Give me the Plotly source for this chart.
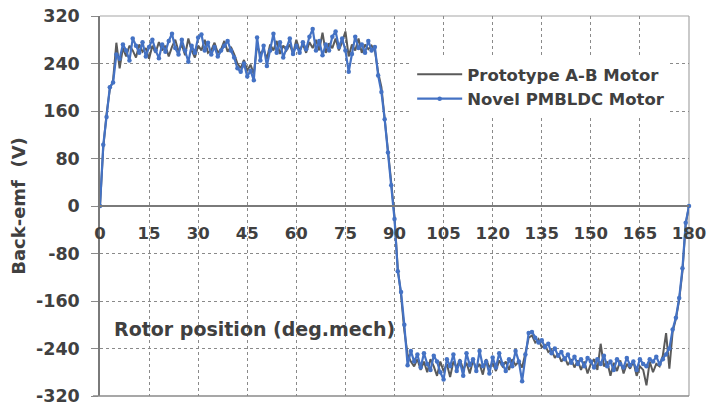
import plotly.graph_objects as go

# Rotor position in mechanical degrees (1 degree steps)
rotor_deg = list(range(0, 181))

# Back-emf of the prototype A-B motor (V)
prototype_emf = [
    0, 98, 155, 196, 212, 275, 232, 266, 252, 270,
    262, 250, 272, 260, 266, 248, 270, 258, 276, 262,
    270, 252, 268, 280, 260, 272, 254, 282, 262, 250,
    270, 262, 280, 258, 262, 275, 258, 264, 278, 260,
    268, 256, 240, 232, 246, 228, 238, 222, 270, 256,
    264, 248, 272, 262, 278, 256, 270, 262, 272, 256,
    280, 262, 272, 258, 276, 266, 280, 262, 292, 258,
    274, 266, 282, 262, 276, 294, 252, 272, 262, 282,
    258, 272, 264, 270, 262, 225, 200, 150, 95, 40,
    -18, -105, -150, -210, -250, -262, -270, -258, -276, -262,
    -280, -258, -270, -286, -262, -278, -266, -288, -262, -272,
    -258, -276, -264, -282, -260, -274, -266, -284, -258, -272,
    -264, -278, -260, -270, -262, -276, -258, -268, -262, -272,
    -248, -222, -218, -230, -224, -238, -234, -246, -242, -256,
    -248, -262, -254, -268, -258, -272, -260, -276, -262, -282,
    -266, -258, -276, -232, -270, -262, -286, -264, -278, -260,
    -282, -266, -274, -262, -286, -270, -276, -302, -262, -280,
    -266, -270, -252, -214, -274, -212, -190, -158, -110, -30,
    0,
]

# Back-emf of the novel PMBLDC motor (V)
novel_emf = [
    0, 103, 150, 200, 208, 255, 248, 272, 262, 245,
    282, 270, 258, 276, 252, 268, 280, 262, 249, 272,
    260, 278, 290, 266, 255, 280, 262, 243, 270, 258,
    284, 289, 262, 275, 255, 268, 252, 262, 270, 278,
    262, 250, 232, 226, 240, 218, 228, 212, 284, 245,
    270, 236, 262, 290, 258, 276, 250, 266, 282, 256,
    270, 258, 276, 264, 285, 298, 262, 278, 254, 272,
    262, 285, 294, 268, 282, 262, 226, 256, 285, 266,
    272, 258, 278, 262, 268, 220, 192, 146, 90, 35,
    -22, -110, -145, -200, -268, -244, -262, -250, -272, -248,
    -266, -276, -252, -262, -280, -292, -258, -270, -250, -278,
    -262, -286, -248, -268, -258, -278, -244, -270, -262, -282,
    -255, -272, -248, -266, -278, -258, -270, -244, -262, -295,
    -250, -214, -212, -222, -230, -226, -238, -232, -248, -240,
    -252, -246, -258, -250, -264, -254, -266, -258, -270, -256,
    -262, -272, -258, -266, -252, -270, -262, -276, -258, -266,
    -272, -256, -268, -262, -276, -258, -266, -270, -258, -262,
    -254, -266, -258, -250, -240, -208, -188, -155, -105, -28,
    0,
]

x_ticks = list(range(0, 181, 15))
y_ticks = list(range(-320, 321, 80))

FONT = "DejaVu Sans"
TEXT = "#404040"
GRID = "#8a8a8a"

fig = go.Figure()

fig.add_trace(go.Scatter(
    x=rotor_deg, y=prototype_emf,
    mode="lines",
    name="Prototype A-B Motor",
    line=dict(color="#5a5a5a", width=2),
    cliponaxis=False,
))

fig.add_trace(go.Scatter(
    x=rotor_deg, y=novel_emf,
    mode="lines+markers",
    name="Novel PMBLDC Motor",
    line=dict(color="#4472C4", width=2.2),
    marker=dict(color="#4472C4", size=4.5, symbol="circle"),
    cliponaxis=False,
))

fig.update_layout(
    width=710, height=405,
    margin=dict(l=100, r=21, t=16, b=9, autoexpand=False),
    paper_bgcolor="white",
    plot_bgcolor="white",
    font=dict(family=FONT, color=TEXT),
    showlegend=True,
    legend=dict(
        x=0.53, y=0.892, xanchor="left", yanchor="top",
        bgcolor="white",
        borderwidth=0,
        font=dict(family=FONT, size=16.5, color=TEXT, weight="bold"),
        tracegroupgap=0,
        itemwidth=45,
    ),
    xaxis=dict(
        range=[0, 180], automargin=False,
        tickmode="array", tickvals=x_ticks, ticktext=[str(v) for v in x_ticks],
        anchor="free", position=0.5,
        showline=True, linecolor="#7a7a7a", linewidth=1.5,
        ticks="", ticklabelstandoff=12,
        tickfont=dict(family=FONT, size=16.5, color=TEXT, weight="bold"),
        showgrid=True, gridcolor=GRID, griddash="dot", gridwidth=1,
        zeroline=False,
    ),
    yaxis=dict(
        range=[-320, 320], automargin=False,
        tickmode="array", tickvals=y_ticks, ticktext=[str(v) for v in y_ticks],
        showline=True, linecolor="#7a7a7a", linewidth=1.5,
        ticks="outside", ticklen=7, tickcolor=GRID, tickwidth=1,
        ticklabelstandoff=8, ticklabeloverflow="allow",
        tickfont=dict(family=FONT, size=17.5, color=TEXT, weight="bold"),
        showgrid=True, gridcolor=GRID, griddash="dot", gridwidth=1,
        zeroline=False,
        title=dict(text="Back-emf  (V)", standoff=6,
                   font=dict(family=FONT, size=18, color=TEXT, weight="bold")),
    ),
    shapes=[
        # top, right and bottom edges of the plotting area
        dict(type="line", xref="paper", yref="paper", x0=0, y0=1, x1=1, y1=1,
             line=dict(color="#a6a6a6", width=1.2), layer="below"),
        dict(type="line", xref="paper", yref="paper", x0=1, y0=0, x1=1, y1=1,
             line=dict(color="#a6a6a6", width=1.2), layer="below"),
        dict(type="line", xref="paper", yref="paper", x0=-0.012, y0=0, x1=1, y1=0,
             line=dict(color="#8a8a8a", width=1.5), layer="above"),
    ],
    annotations=[
        dict(text="Rotor position (deg.mech)", xref="paper", yref="paper",
             x=0.02, y=0.176, xanchor="left", yanchor="middle", showarrow=False,
             font=dict(family=FONT, size=19, color=TEXT, weight="bold")),
    ],
)

fig.write_html("out.html")
